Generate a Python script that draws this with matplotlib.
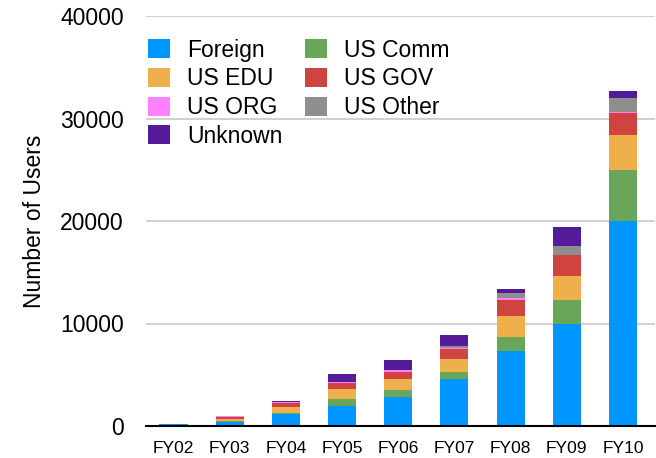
import numpy as np
import matplotlib
matplotlib.use("Agg")
import matplotlib.pyplot as plt

plt.rcParams['font.family'] = ['Liberation Sans', 'DejaVu Sans']

years = ['FY02', 'FY03', 'FY04', 'FY05', 'FY06', 'FY07', 'FY08', 'FY09', 'FY10']

foreign = [150, 360, 1140, 2000, 2800, 4560, 7360, 9950, 19970]
us_comm = [0, 100, 100, 640, 750, 750, 1370, 2370, 5050]
us_edu = [0, 230, 620, 1010, 1010, 1270, 2050, 2280, 3330]
us_gov = [0, 140, 390, 520, 750, 920, 1540, 2050, 2150]
us_org = [0, 130, 60, 130, 130, 120, 130, 80, 100]
us_other = [0, 0, 0, 0, 0, 230, 520, 800, 1400]
unknown = [0, 30, 100, 780, 1010, 1010, 390, 1920, 650]

series = [
    ('Foreign', foreign, '#0096ff'),
    ('US Comm', us_comm, '#6aa65a'),
    ('US EDU', us_edu, '#eeb04d'),
    ('US GOV', us_gov, '#d0443f'),
    ('US ORG', us_org, '#ff80ff'),
    ('US Other', us_other, '#8e8e8e'),
    ('Unknown', unknown, '#541b9b'),
]

fig, ax = plt.subplots(figsize=(6.56, 4.58), dpi=100)
fig.subplots_adjust(left=146 / 656, right=655 / 656, top=1 - 16 / 458, bottom=1 - 426 / 458)

x = np.arange(len(years))
bottom = np.zeros(len(years))
handles = {}
for name, vals, col in series:
    vals = np.array(vals, dtype=float)
    b = ax.bar(x, vals, 0.5, bottom=bottom, color=col, label=name, zorder=2)
    handles[name] = b
    bottom += vals

ax.set_ylim(0, 40000)
ax.set_xlim(-0.49, 8.57)
ax.set_yticks([0, 10000, 20000, 30000, 40000])
ax.set_xticks(x)
ax.set_xticklabels(years, fontsize=12.5)
ax.tick_params(axis='y', labelsize=16.5, length=0, pad=16)
ax.tick_params(axis='x', length=0, pad=11)
ax.grid(axis='y', color='#c8c8c8', linewidth=1.2, zorder=1)
ax.set_axisbelow(True)
for s in ['top', 'right', 'left']:
    ax.spines[s].set_visible(False)
ax.spines['bottom'].set_linewidth(1.5)
ax.spines['bottom'].set_zorder(3)
ax.set_ylabel('Number of Users', fontsize=16.5, labelpad=10)

# legend is laid out column-major, so reorder to read row by row
order = ['Foreign', 'US EDU', 'US ORG', 'Unknown', 'US Comm', 'US GOV', 'US Other']
leg = ax.legend([handles[n] for n in order], order, loc='upper left', ncol=2,
                frameon=False, fontsize=16.5, handlelength=0.95, handleheight=0.9,
                handletextpad=0.75, columnspacing=1.0, labelspacing=0.25,
                bbox_to_anchor=(-0.014, 0.967), borderaxespad=0)
leg.set_zorder(0)

fig.savefig('out.png', dpi=100)
